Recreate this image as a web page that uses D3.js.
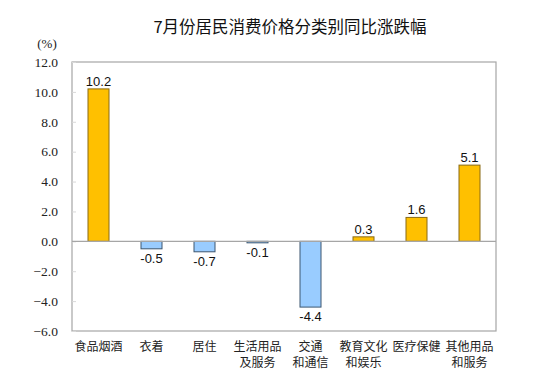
<!DOCTYPE html>
<html><head><meta charset="utf-8">
<script src="https://cdn.jsdelivr.net/npm/d3@7"></script>
<style>body{margin:0;background:#fff}svg{display:block}
.serif{font-family:"Liberation Serif","DejaVu Serif","Times New Roman",serif !important}</style>
</head><body>
<script>
const categories = [["食品烟酒"],["衣着"],["居住"],["生活用品","及服务"],["交通","和通信"],["教育文化","和娱乐"],["医疗保健"],["其他用品","和服务"]];
const values = [10.2, -0.5, -0.7, -0.1, -4.4, 0.3, 1.6, 5.1];
const tickValues = [12, 10, 8, 6, 4, 2, 0, -2, -4, -6];
const title = "7月份居民消费价格分类别同比涨跌幅";
const unit = "(%)";

const W = 533, H = 385;
const m = {left: 72, right: 37, top: 62, bottom: 54};
const svg = d3.select("body").append("svg").attr("width", W).attr("height", H);
const x = d3.scaleBand().domain(d3.range(values.length)).range([m.left, W - m.right]).paddingInner(0.6).paddingOuter(0.3);
const y = d3.scaleLinear().domain([-6, 12]).range([H - m.bottom, m.top]);
const cjk = "'Noto Sans CJK SC', sans-serif";

svg.append("text").attr("x", 290).attr("y", 33).attr("text-anchor", "middle")
  .attr("font-family", cjk).attr("font-size", 16.5).attr("fill", "#111").text(title);
svg.append("text").attr("class", "serif").attr("x", 47).attr("y", 48).attr("text-anchor", "middle")
  .attr("font-size", 13).attr("fill", "#222").text(unit);

// frame
svg.append("rect").attr("x", m.left).attr("y", m.top).attr("width", W - m.left - m.right)
  .attr("height", H - m.top - m.bottom).attr("fill", "none").attr("stroke", "#a6a6a6").attr("stroke-width", 1.2);

// y axis
const ya = svg.append("g").attr("transform", `translate(${m.left},0)`)
  .call(d3.axisLeft(y).tickValues(tickValues).tickFormat(d3.format(".1f")).tickSize(-4).tickPadding(14));
ya.attr("font-family", null);
ya.select(".domain").remove();
ya.selectAll(".tick line").attr("stroke", "#d8d8d8");
ya.selectAll("text").attr("class", "serif").attr("font-size", 13.5).attr("fill", "#222");

// bars
const bw = 21;
svg.append("g").selectAll("rect").data(values).join("rect")
  .attr("x", (d, i) => x(i) + x.bandwidth() / 2 - bw / 2)
  .attr("width", bw)
  .attr("y", d => y(Math.max(0, d)))
  .attr("height", d => Math.abs(y(d) - y(0)))
  .attr("fill", d => d >= 0 ? "#ffc000" : "#99ccff")
  .attr("stroke", d => d >= 0 ? "#8a6a14" : "#3d5770")
  .attr("stroke-width", 1);

// zero line
svg.append("line").attr("x1", m.left).attr("x2", W - m.right).attr("y1", y(0)).attr("y2", y(0))
  .attr("stroke", "#a6a6a6").attr("stroke-width", 1.2);

// value labels
svg.append("g").selectAll("text").data(values).join("text")
  .attr("x", (d, i) => x(i) + x.bandwidth() / 2)
  .attr("y", d => d >= 0 ? y(d) - 3 : y(d) + 14)
  .attr("text-anchor", "middle").attr("font-family", "'Liberation Sans', Arial, sans-serif")
  .attr("font-size", 13).attr("fill", "#111").text(d => d.toFixed(1));

// category labels
const cg = svg.append("g").selectAll("text").data(categories).join("text")
  .attr("x", (d, i) => x(i) + x.bandwidth() / 2)
  .attr("text-anchor", "middle").attr("font-family", cjk).attr("font-size", 12).attr("fill", "#222");
cg.selectAll("tspan").data(d => d).join("tspan")
  .attr("x", function() { return this.parentNode.getAttribute("x"); })
  .attr("y", (d, j) => 351 + j * 16).text(d => d);
</script>
</body></html>
